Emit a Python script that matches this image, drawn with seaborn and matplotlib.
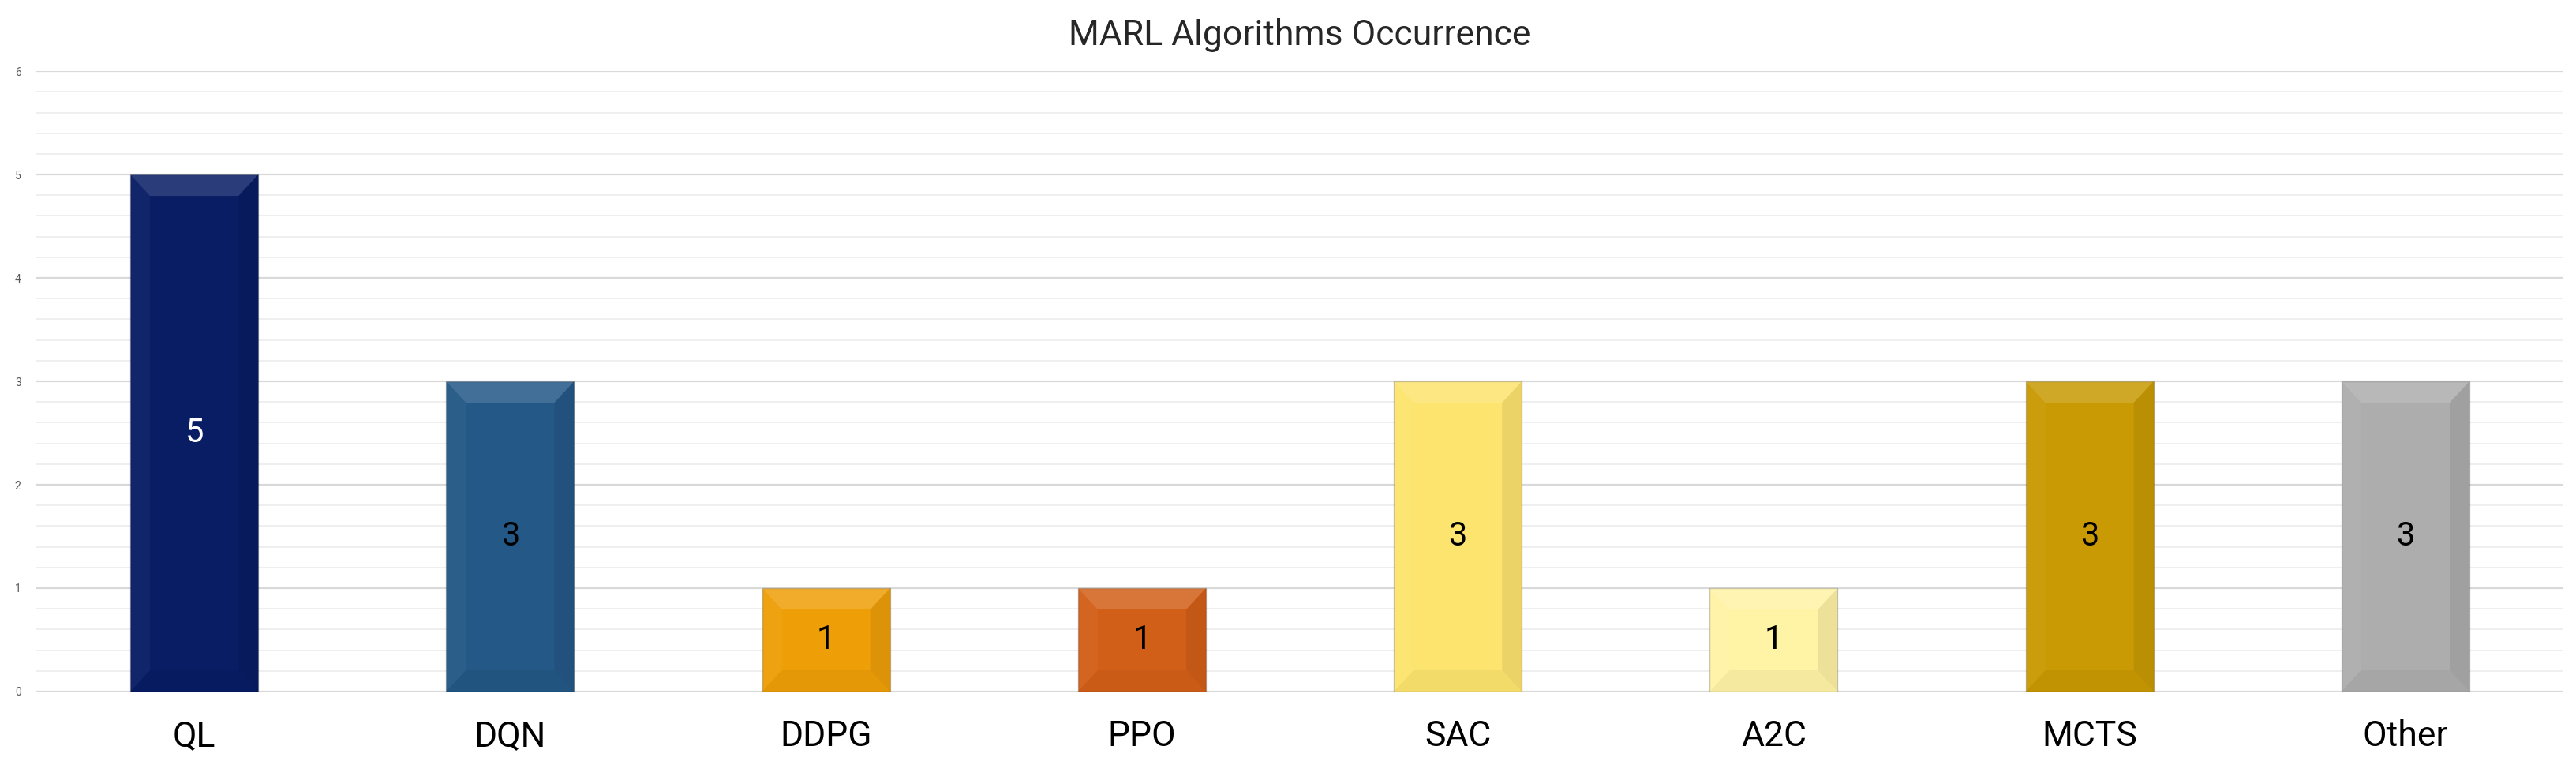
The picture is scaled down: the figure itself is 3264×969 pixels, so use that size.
import matplotlib
matplotlib.use("Agg")
import matplotlib.pyplot as plt
import seaborn as sns
import pandas as pd
from matplotlib.patches import Polygon
from matplotlib.ticker import MultipleLocator

# data
algorithms = ["QL", "DQN", "DDPG", "PPO", "SAC", "A2C", "MCTS", "Other"]
counts = [5, 3, 1, 1, 3, 1, 3, 3]
bar_colors = ["#081D64", "#245886", "#EE9F08", "#D25F18",
              "#FDE46F", "#FFF3A6", "#C99A04", "#ADADAD"]
label_colors = ["white", "black", "black", "black", "black", "black", "black", "black"]

df = pd.DataFrame({"algo": algorithms, "count": counts})

sns.set_style("white")
plt.rcParams["font.family"] = ["Roboto", "DejaVu Sans"]

fig = plt.figure(figsize=(32.64, 9.69), dpi=100)
ax = fig.add_axes([0.0141, 0.096, 0.981, 0.811])

sns.barplot(data=df, x="algo", y="count", hue="algo", palette=bar_colors,
            legend=False, width=0.405, saturation=1, ax=ax, zorder=2)

ax.set_ylim(0, 6)
ax.set_xlim(-0.5, len(algorithms) - 0.5)
ax.yaxis.set_major_locator(MultipleLocator(1))
ax.yaxis.set_minor_locator(MultipleLocator(0.2))
ax.grid(axis="y", which="major", color="#D9D9D9", linewidth=1.6, zorder=0)
ax.grid(axis="y", which="minor", color="#EFEFEF", linewidth=1.4, zorder=0)
ax.set_axisbelow(True)
for s in ax.spines.values():
    s.set_visible(False)

ax.set_xlabel("")
ax.set_ylabel("")
ax.tick_params(axis="x", length=0, labelsize=32, pad=26, labelcolor="black")
ax.tick_params(axis="y", which="both", length=0, labelsize=10, pad=14, labelcolor="#595959")
ax.set_title("MARL Algorithms Occurrence", fontsize=32, pad=24)

# soft bevel look on each bar, sized in pixels
bbox = ax.get_window_extent()
ux = 25 / (bbox.width / (len(algorithms)))
uy = 27 / (bbox.height / 6)
for i, p in enumerate(ax.patches):
    x0, w, h = p.get_x(), p.get_width(), p.get_height()
    x1 = x0 + w
    p.set_edgecolor((0, 0, 0, 0.2))
    p.set_linewidth(1.0)
    top = Polygon([(x0, h), (x1, h), (x1 - ux, h - uy), (x0 + ux, h - uy)],
                  closed=True, facecolor="white", alpha=0.14, lw=0, zorder=3)
    left = Polygon([(x0, h), (x0 + ux, h - uy), (x0 + ux, uy), (x0, 0)],
                   closed=True, facecolor="white", alpha=0.04, lw=0, zorder=3)
    right = Polygon([(x1, h), (x1 - ux, h - uy), (x1 - ux, uy), (x1, 0)],
                    closed=True, facecolor="black", alpha=0.07, lw=0, zorder=3)
    bottom = Polygon([(x0, 0), (x1, 0), (x1 - ux, uy), (x0 + ux, uy)],
                     closed=True, facecolor="black", alpha=0.04, lw=0, zorder=3)
    for poly in (top, left, right, bottom):
        ax.add_patch(poly)
    ax.text(x0 + w / 2, h / 2, str(counts[i]), ha="center", va="center",
            fontsize=30, color=label_colors[i], zorder=4)

fig.savefig("out.png", dpi=100)
